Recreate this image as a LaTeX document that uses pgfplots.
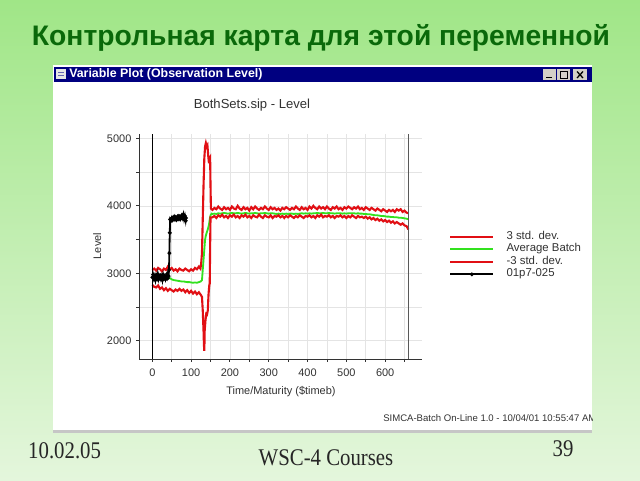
\documentclass[border=0pt]{standalone}
\usepackage{pgfplots}
\pgfplotsset{compat=1.18}
\usepackage{fontspec}
\setmainfont{Liberation Sans}
\newfontfamily\timesf{Liberation Serif}
\definecolor{bgtop}{RGB}{160,230,135}
\definecolor{bgbot}{RGB}{228,246,220}
\definecolor{ttlgreen}{RGB}{10,105,10}
\definecolor{navyc}{RGB}{0,0,128}
\definecolor{winbtn}{RGB}{212,208,200}
\definecolor{cred}{RGB}{225,15,20}
\definecolor{avggreen}{RGB}{50,225,30}
\definecolor{gridc}{RGB}{228,228,228}
\definecolor{txtc}{RGB}{50,50,50}
\begin{document}
\begin{tikzpicture}
\begin{scope}[x=0.25mm,y=-0.25mm]
\shade[top color=bgtop,bottom color=bgbot] (0,0) rectangle (640,480);
\node[font=\bfseries\fontsize{20.1}{22}\selectfont, text=ttlgreen] at (321,38) {Контрольная карта для этой переменной};
\fill[white] (53,65) rectangle (592,430);
\fill[gray!45] (53,430) rectangle (592,433);
\fill[navyc] (54,67) rectangle (592,82);
\fill[white!80!gray] (56,69) rectangle (66,79);
\draw[navyc!60,line width=0.3pt] (58,72) -- (64,72) (58,75) -- (64,75);
\node[anchor=west, font=\bfseries\fontsize{8.8}{10}\selectfont, text=white, inner sep=0] at (69,74.5) {Variable Plot (Observation Level)};
\foreach \a/\b in {543/556,557/570,573/587}{\fill[winbtn] (\a,69) rectangle (\b,80);}
\draw[black,line width=1pt] (546,77.5) -- (552,77.5);
\draw[black,line width=0.6pt] (560,71.5) rectangle (567,78);
\draw[black,line width=0.5pt] (560,71) -- (567,71);
\draw[black,line width=0.9pt] (577,71.5) -- (583,78) (583,71.5) -- (577,78);
\node[font=\fontsize{9.3}{10}\selectfont, text=txtc] at (252,105) {BothSets.sip - Level};
\begin{scope}
\clip (53,65) rectangle (592,430);
\node[anchor=west, font=\fontsize{6.8}{8}\selectfont, text=txtc, inner sep=0] at (383,418) {SIMCA-Batch On-Line 1.0 - 10/04/01 10:55:47 AM};
\end{scope}
\node[font=\timesf\fontsize{17}{19}\selectfont, text=black!85, xscale=0.87, anchor=base west, inner sep=0] at (28,458) {10.02.05};
\node[font=\timesf\fontsize{17}{19}\selectfont, text=black!85, xscale=0.87, anchor=base, inner sep=0] at (326,465) {WSC-4 Courses};
\node[font=\timesf\fontsize{17}{19}\selectfont, text=black!85, xscale=0.87, anchor=base, inner sep=0] at (563,456) {39};
\end{scope}
\begin{axis}[
 at={(34.825mm,-89.75mm)}, anchor=south west,
 scale only axis, width=70.675mm, height=56.25mm,
 xmin=-33.5, xmax=695, ymin=1730, ymax=5065,
 axis x line*=bottom, axis y line*=left,
 axis line style={black!80, line width=0.6pt},
 xtick={0,100,200,300,400,500,600}, xticklabels={0,100,200,300,400,500,600},
 minor xtick={50,150,250,350,450,550,650},
 ytick={2000,3000,4000,5000}, yticklabels={2000,3000,4000,5000},
 minor ytick={2500,3500,4500},
 grid=both, grid style={gridc, line width=0.5pt}, minor grid style={gridc, line width=0.5pt},
 tick align=outside, major tick length=2.1pt, minor tick length=2.1pt,
 tick style={black!80, line width=0.6pt},
 tick label style={font=\fontsize{7.8}{9}\selectfont, text=txtc},
 xticklabel style={yshift=-1.6pt},
 xlabel={Time/Maturity (\$timeb)}, ylabel={Level},
 label style={font=\fontsize{7.8}{9}\selectfont, text=txtc},
 xlabel style={at={(axis description cs:0.501,-0.145)}, anchor=center},
 ylabel style={at={(axis description cs:-0.149,0.502)}, anchor=center},
 legend image code/.code={\draw[#1, mark repeat=2, mark phase=2] plot coordinates {(0mm,0mm) (5.375mm,0mm) (10.75mm,0mm)};},
 legend style={at={(1.0955,0.571)}, anchor=north west, draw=none, fill=none, inner sep=0pt, row sep=0pt,
   font=\fontsize{8.1}{9}\selectfont, text=txtc, nodes={inner sep=0pt, text height=6.2pt, text depth=2.64pt},
   /tikz/every odd column/.append style={column sep=3.0mm}},
 legend cell align=left,
 clip=false,
]
% upper 3 std
\addplot[color=cred, line width=1.5pt] coordinates {
(0,3050) (5,3070) (10,3040) (15,3080) (20,3060) (25,3030) (30,3070) (35,3050) (40,3100) (45,3060) (50,3080) (55,3040) (60,3060) (65,3030) (70,3070) (75,3050) (80,3040) (85,3070) (90,3050) (95,3030) (100,3060) (105,3040) (110,3080) (115,3060) (120,3100) (124,3070) (126,3150) (128,3300) (130,3800) (132,4300) (134,4700) (136,4880) (138,4930) (140,4880) (142,4900) (144,4750) (146,4630) (147,4700) (149,4720) (150,4300) (151,3960)
(155,3940) (160,3970) (165,3950) (170,3990) (175,3960) (180,3940) (185,3980) (190,3950) (195,3970) (200,3940) (205,3990) (210,3960) (215,3950) (220,4000) (225,3960) (230,3940) (235,3980) (240,3950) (245,3970) (250,3930) (255,3980) (260,3950) (265,3990) (270,3960) (275,3940) (280,3970) (285,3950) (290,3990) (295,3960) (300,3940) (305,3980) (310,3950) (315,3970) (320,3940) (325,3960) (330,3930) (335,3970) (340,3950) (345,3980) (350,3960) (355,3940) (360,3970) (365,3950) (370,3990) (375,3960) (380,3940) (385,3980) (390,3950) (395,3970) (400,3940) (405,3990) (410,3960) (415,4000) (420,3970) (425,3950) (430,3990) (435,3960) (440,3980) (445,3950) (450,3990) (455,3960) (460,3940) (465,3980) (470,3960) (475,3990) (480,3950) (485,3970) (490,3940) (495,3980) (500,3960) (505,3990) (510,3970) (515,3950) (520,3980) (525,3960) (530,3990) (535,3950) (540,3970) (545,3940) (550,3980) (555,3960) (560,3940) (565,3970) (570,3950) (575,3930) (580,3960) (585,3940) (590,3920) (595,3950) (600,3930) (605,3910) (610,3940) (615,3920) (620,3940) (625,3910) (630,3950) (635,3930) (640,3950) (645,3910) (650,3930) (655,3900) (660,3890)
};
\addlegendentry{3 std. dev.}
% average
\addplot[color=avggreen, line width=1.3pt, legend image post style={color=avggreen, line width=1.6pt, yshift=0.3pt}] coordinates {
(0,2960) (5,2950) (10,2955) (15,2945) (20,2950) (25,2940) (30,2935) (35,2940) (40,2925) (45,2930) (50,2910) (55,2900) (60,2895) (65,2890) (70,2885) (75,2880) (80,2880) (85,2875) (90,2870) (95,2870) (100,2865) (105,2860) (110,2865) (115,2860) (120,2870) (125,2880) (128,2900) (130,3050) (132,3200) (134,3350) (136,3500) (138,3560) (140,3600) (143,3650) (146,3720) (148,3800) (150,3860) (153,3885)
(155,3880) (160,3885) (165,3880) (170,3890) (175,3885) (180,3890) (185,3895) (190,3890) (195,3885) (200,3890) (205,3895) (210,3890) (215,3890) (220,3895) (225,3890) (230,3885) (235,3890) (240,3895) (245,3890) (250,3885) (255,3890) (260,3890) (265,3895) (270,3890) (275,3885) (280,3890) (285,3890) (290,3895) (295,3890) (300,3885) (305,3890) (310,3890) (315,3885) (320,3880) (325,3885) (330,3880) (335,3885) (340,3880) (345,3885) (350,3880) (355,3885) (360,3885) (365,3880) (370,3885) (375,3880) (380,3885) (385,3890) (390,3885) (395,3890) (400,3885) (405,3890) (410,3885) (415,3890) (420,3890) (425,3895) (430,3890) (435,3890) (440,3895) (445,3890) (450,3890) (455,3895) (460,3890) (465,3890) (470,3885) (475,3890) (480,3890) (485,3890) (490,3885) (495,3890) (500,3885) (505,3890) (510,3890) (515,3890) (520,3890) (525,3885) (530,3890) (535,3885) (540,3885) (545,3880) (550,3880) (555,3875) (560,3875) (565,3870) (570,3865) (575,3860) (580,3860) (585,3855) (590,3850) (595,3850) (600,3845) (605,3840) (610,3840) (615,3835) (620,3835) (625,3830) (630,3830) (635,3825) (640,3825) (645,3820) (650,3815) (655,3810) (660,3800)
};
\addlegendentry{Average Batch}
% lower 3 std
\addplot[color=cred, line width=1.5pt] coordinates {
(0,2830) (5,2800) (10,2790) (15,2820) (20,2770) (25,2790) (30,2750) (35,2780) (40,2740) (45,2770) (50,2750) (55,2730) (60,2760) (65,2740) (70,2770) (75,2740) (80,2760) (85,2720) (90,2750) (95,2710) (100,2740) (105,2700) (110,2730) (115,2690) (120,2720) (125,2680) (128,2650) (130,2450) (132,2150) (133,1950) (134,1850) (135,2150) (137,2300) (139,2400) (141,2390) (143,2450) (145,2700) (147,2830) (148,2850) (149,3400) (150,3830)
(155,3830) (160,3850) (165,3820) (170,3860) (175,3840) (180,3870) (185,3830) (190,3850) (195,3820) (200,3860) (205,3840) (210,3870) (215,3830) (220,3850) (225,3820) (230,3860) (235,3840) (240,3870) (245,3830) (250,3850) (255,3820) (260,3860) (265,3840) (270,3830) (275,3870) (280,3840) (285,3820) (290,3860) (295,3840) (300,3830) (305,3860) (310,3820) (315,3850) (320,3840) (325,3860) (330,3830) (335,3850) (340,3820) (345,3850) (350,3830) (355,3860) (360,3840) (365,3820) (370,3850) (375,3830) (380,3860) (385,3840) (390,3820) (395,3850) (400,3840) (405,3860) (410,3830) (415,3850) (420,3820) (425,3860) (430,3840) (435,3870) (440,3830) (445,3850) (450,3840) (455,3860) (460,3830) (465,3850) (470,3820) (475,3850) (480,3840) (485,3860) (490,3830) (495,3850) (500,3820) (505,3850) (510,3830) (515,3860) (520,3840) (525,3820) (530,3850) (535,3830) (540,3840) (545,3820) (550,3840) (555,3810) (560,3830) (565,3800) (570,3820) (575,3790) (580,3810) (585,3780) (590,3800) (595,3770) (600,3790) (605,3760) (610,3780) (615,3750) (620,3770) (625,3740) (630,3760) (635,3740) (640,3720) (645,3740) (650,3710) (655,3700) (660,3650)
};
\addlegendentry{-3 std. dev.}
% batch 01p7-025
\addplot[color=black, line width=1.3pt, mark=*, mark size=0.6pt] coordinates {
(0,2940) (2,2980) (4,2920) (6,2960) (8,2900) (10,2970) (12,2930) (14,2990) (16,2910) (18,2950) (20,2970) (22,2920) (24,2960) (26,2900) (28,2980) (30,2930) (32,2960) (34,2910) (36,2950) (38,2990) (40,2930) (42,2960) (43,3050) (44,3300) (45,3600) (46,3800) (48,3780) (50,3820) (52,3790) (54,3830) (56,3800) (58,3840) (60,3810) (62,3790) (64,3830) (66,3850) (68,3810) (70,3840) (72,3800) (74,3830) (76,3860) (78,3820) (80,3870) (82,3800) (84,3850) (86,3780) (87,3820)
};
\addlegendentry{01p7-025}
\addplot[black, line width=0.7pt, forget plot] coordinates {(0,1730) (0,5065)};
\addplot[black!65, line width=0.7pt, forget plot] coordinates {(659,1730) (659,5065)};
\end{axis}
\end{tikzpicture}
\end{document}
